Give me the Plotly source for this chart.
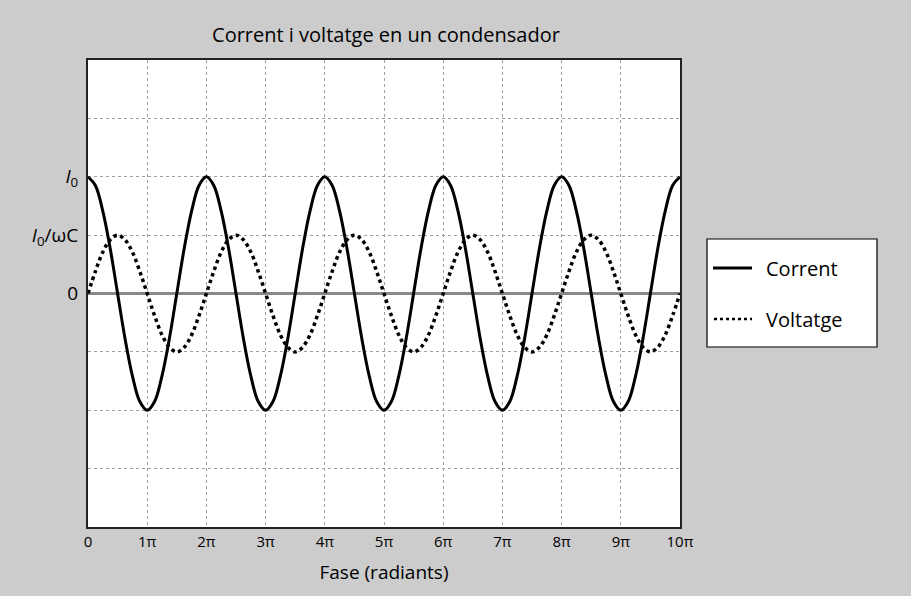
import plotly.graph_objects as go

# Phase in units of pi (sampled every pi/8)
phase = [0.0, 0.125, 0.25, 0.375, 0.5, 0.625, 0.75, 0.875,
         1.0, 1.125, 1.25, 1.375, 1.5, 1.625, 1.75, 1.875,
         2.0, 2.125, 2.25, 2.375, 2.5, 2.625, 2.75, 2.875,
         3.0, 3.125, 3.25, 3.375, 3.5, 3.625, 3.75, 3.875,
         4.0, 4.125, 4.25, 4.375, 4.5, 4.625, 4.75, 4.875,
         5.0, 5.125, 5.25, 5.375, 5.5, 5.625, 5.75, 5.875,
         6.0, 6.125, 6.25, 6.375, 6.5, 6.625, 6.75, 6.875,
         7.0, 7.125, 7.25, 7.375, 7.5, 7.625, 7.75, 7.875,
         8.0, 8.125, 8.25, 8.375, 8.5, 8.625, 8.75, 8.875,
         9.0, 9.125, 9.25, 9.375, 9.5, 9.625, 9.75, 9.875,
         10.0]

current = [2.00, 1.85, 1.41, 0.77, 0.00, -0.77, -1.41, -1.85,
           -2.00, -1.85, -1.41, -0.77, 0.00, 0.77, 1.41, 1.85,
           2.00, 1.85, 1.41, 0.77, 0.00, -0.77, -1.41, -1.85,
           -2.00, -1.85, -1.41, -0.77, 0.00, 0.77, 1.41, 1.85,
           2.00, 1.85, 1.41, 0.77, 0.00, -0.77, -1.41, -1.85,
           -2.00, -1.85, -1.41, -0.77, 0.00, 0.77, 1.41, 1.85,
           2.00, 1.85, 1.41, 0.77, 0.00, -0.77, -1.41, -1.85,
           -2.00, -1.85, -1.41, -0.77, 0.00, 0.77, 1.41, 1.85,
           2.00, 1.85, 1.41, 0.77, 0.00, -0.77, -1.41, -1.85,
           -2.00, -1.85, -1.41, -0.77, 0.00, 0.77, 1.41, 1.85,
           2.00]

voltage = [0.00, 0.38, 0.71, 0.92, 1.00, 0.92, 0.71, 0.38,
           0.00, -0.38, -0.71, -0.92, -1.00, -0.92, -0.71, -0.38,
           0.00, 0.38, 0.71, 0.92, 1.00, 0.92, 0.71, 0.38,
           0.00, -0.38, -0.71, -0.92, -1.00, -0.92, -0.71, -0.38,
           0.00, 0.38, 0.71, 0.92, 1.00, 0.92, 0.71, 0.38,
           0.00, -0.38, -0.71, -0.92, -1.00, -0.92, -0.71, -0.38,
           0.00, 0.38, 0.71, 0.92, 1.00, 0.92, 0.71, 0.38,
           0.00, -0.38, -0.71, -0.92, -1.00, -0.92, -0.71, -0.38,
           0.00, 0.38, 0.71, 0.92, 1.00, 0.92, 0.71, 0.38,
           0.00, -0.38, -0.71, -0.92, -1.00, -0.92, -0.71, -0.38,
           0.00]

x_tickvals = [0, 1, 2, 3, 4, 5, 6, 7, 8, 9, 10]
x_ticktext = ["0", "1π", "2π", "3π", "4π", "5π", "6π", "7π", "8π", "9π", "10π"]
y_tickvals = [0, 1, 2]
y_ticktext = ["0", "<i>I</i><sub>0</sub>/ωC", "<i>I</i><sub>0</sub>"]

series_names = ["Corrent", "Voltatge"]
title_text = "Corrent i voltatge en un condensador"
x_title = "Fase (radiants)"

FONT = "Open Sans"
BG = "#cccccc"
GRID = "#a0a0a0"

fig = go.Figure()
fig.add_trace(go.Scatter(x=phase, y=current, mode="lines", name=series_names[0],
                         line=dict(color="black", width=3, shape="spline"),
                         showlegend=False))
fig.add_trace(go.Scatter(x=phase, y=voltage, mode="lines", name=series_names[1],
                         line=dict(color="black", width=3.5, dash="dot", shape="spline"),
                         showlegend=False))

# Manual legend box
L, R, T, B = 88, 680, 60, 527
W, H = R - L, B - T
def px(x):
    return (x - L) / W
def py(y):
    return (B - y) / H

shapes = [
    dict(type="rect", xref="paper", yref="paper", x0=px(707), x1=px(877), y0=py(347), y1=py(239),
         line=dict(color="black", width=1.2), fillcolor="white", layer="above"),
    dict(type="line", xref="paper", yref="paper", x0=px(713), x1=px(752), y0=py(268), y1=py(268),
         line=dict(color="black", width=3)),
    dict(type="line", xref="paper", yref="paper", x0=px(714), x1=px(752), y0=py(319), y1=py(319),
         line=dict(color="black", width=2.5, dash="dot")),
]
annotations = [
    dict(text=series_names[0], xref="paper", yref="paper", x=px(764), y=py(268),
         xanchor="left", yanchor="middle", showarrow=False, font=dict(size=20, color="black", family=FONT)),
    dict(text=series_names[1], xref="paper", yref="paper", x=px(764), y=py(319),
         xanchor="left", yanchor="middle", showarrow=False, font=dict(size=20, color="black", family=FONT)),
]

fig.update_layout(
    width=911, height=596,
    margin=dict(l=L, r=911 - R, t=T, b=596 - B),
    paper_bgcolor=BG, plot_bgcolor="white",
    font=dict(family=FONT, color="black"),
    title=dict(text=title_text, x=px(386), xref="paper", xanchor="center",
               y=1 - 35 / 596, yanchor="middle", font=dict(size=20, color="black", family=FONT)),
    shapes=shapes, annotations=annotations,
    showlegend=False,
)
fig.update_xaxes(range=[0, 10], tickvals=x_tickvals, ticktext=x_ticktext,
                 showgrid=True, gridcolor=GRID, griddash="dot", gridwidth=1,
                 zeroline=False, showline=True, linecolor="#222222", linewidth=2, mirror=True,
                 ticks="", tickfont=dict(size=15, family=FONT),
                 title=dict(text=x_title, font=dict(size=19, family=FONT), standoff=16))
fig.update_yaxes(range=[-4, 4], tickvals=y_tickvals, ticktext=y_ticktext,
                 showgrid=True, gridcolor=GRID, griddash="dot", gridwidth=1,
                 minor=dict(dtick=1, tick0=0, showgrid=True, gridcolor=GRID, griddash="dot", gridwidth=1),
                 zeroline=True, zerolinecolor="#888888", zerolinewidth=2.5,
                 showline=True, linecolor="#222222", linewidth=2, mirror=True,
                 ticks="", tickfont=dict(size=19, family=FONT), ticklabelstandoff=4)

fig.write_html("out.html")
